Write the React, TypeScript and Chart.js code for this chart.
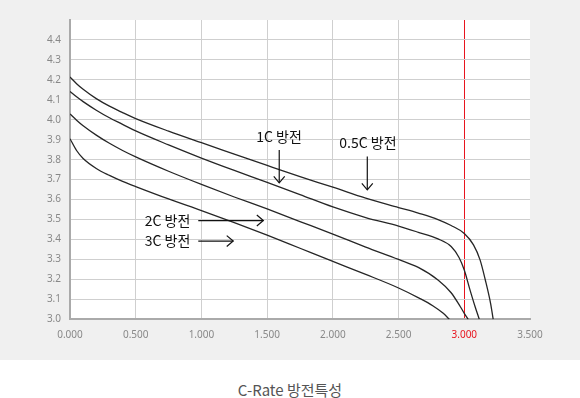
import React, { useEffect, useRef } from 'react';
import { Chart, registerables } from 'chart.js';

Chart.register(...registerables);

// ---- Data (capacity on x, voltage in V on y) ----
const seriesLabels = ['0.5C 방전', '1C 방전', '2C 방전', '3C 방전'];

const xHalfC = [0, 0.05, 0.1, 0.2, 0.3, 0.4, 0.5, 0.75, 1.0, 1.25, 1.5, 1.75, 2.0, 2.25, 2.5, 2.65, 2.8, 2.9, 3.0, 3.07, 3.12, 3.16, 3.2, 3.22];
const yHalfC = [4.214, 4.181, 4.153, 4.106, 4.068, 4.036, 4.006, 3.943, 3.885, 3.828, 3.771, 3.715, 3.662, 3.607, 3.56, 3.532, 3.5, 3.47, 3.43, 3.373, 3.298, 3.197, 3.08, 3.0];

const x1C = [0, 0.05, 0.1, 0.2, 0.3, 0.4, 0.5, 0.75, 1.0, 1.25, 1.5, 1.75, 2.0, 2.25, 2.5, 2.65, 2.8, 2.9, 2.96, 3.0, 3.04, 3.08, 3.114];
const y1C = [4.142, 4.115, 4.091, 4.048, 4.01, 3.977, 3.944, 3.874, 3.808, 3.746, 3.686, 3.625, 3.563, 3.51, 3.467, 3.436, 3.403, 3.365, 3.31, 3.247, 3.155, 3.068, 3.0];

const x2C = [0, 0.05, 0.1, 0.2, 0.3, 0.4, 0.5, 0.75, 1.0, 1.25, 1.5, 1.75, 2.0, 2.25, 2.5, 2.65, 2.8, 2.9, 2.97, 3.0, 3.03];
const y2C = [4.029, 3.998, 3.97, 3.923, 3.882, 3.846, 3.814, 3.742, 3.676, 3.613, 3.553, 3.49, 3.427, 3.362, 3.3, 3.26, 3.197, 3.133, 3.063, 3.03, 3.0];

const x3C = [0, 0.05, 0.1, 0.2, 0.3, 0.4, 0.5, 0.75, 1.0, 1.25, 1.5, 1.75, 2.0, 2.25, 2.5, 2.66, 2.76, 2.84, 2.886];
const y3C = [3.905, 3.846, 3.806, 3.756, 3.721, 3.691, 3.665, 3.603, 3.545, 3.485, 3.422, 3.356, 3.29, 3.225, 3.157, 3.105, 3.068, 3.03, 3.0];

const seriesX = [xHalfC, x1C, x2C, x3C];
const seriesY = [yHalfC, y1C, y2C, y3C];

// Axis settings
const xMin = 0;
const xMax = 3.5;
const xStep = 0.5;
const yMin = 3.0;
const yMax = 4.5;
const yStep = 0.1;
const markerX = 3.0; // red reference line

// Annotations (in data coordinates)
const noteLabels = ['1C 방전', '0.5C 방전', '2C 방전', '3C 방전'];
const noteLabelX = [1.59, 2.267, 0.742, 0.742];
const noteLabelY = [3.915, 3.885, 3.493, 3.393];
const arrowFromX = [1.592, 2.262, 0.976, 0.976];
const arrowFromY = [3.849, 3.816, 3.495, 3.392];
const arrowToX = [1.592, 2.262, 1.471, 1.242];
const arrowToY = [3.684, 3.649, 3.495, 3.392];

const caption = 'C-Rate 방전특성';

const RED = '#e8141e';
const GRID = '#cfcfcf';

const areaBgPlugin = {
  id: 'areaBg',
  beforeDraw(chart: any) {
    const { ctx, chartArea } = chart;
    if (!chartArea) return;
    ctx.save();
    ctx.fillStyle = '#ffffff';
    ctx.fillRect(chartArea.left, chartArea.top, chartArea.right - chartArea.left, chartArea.bottom - chartArea.top);
    ctx.restore();
  },
};

const annotationPlugin = {
  id: 'notes',
  afterDatasetsDraw(chart: any) {
    const { ctx } = chart;
    const xs = chart.scales.x;
    const ys = chart.scales.y;
    ctx.save();
    ctx.fillStyle = '#111';
    ctx.strokeStyle = '#111';
    ctx.lineWidth = 1.2;
    ctx.font = '14px "Noto Sans CJK KR", "Noto Sans", sans-serif';
    ctx.textAlign = 'center';
    ctx.textBaseline = 'middle';
    for (let i = 0; i < noteLabels.length; i++) {
      ctx.fillText(noteLabels[i], xs.getPixelForValue(noteLabelX[i]), ys.getPixelForValue(noteLabelY[i]));
      const x1 = xs.getPixelForValue(arrowFromX[i]);
      const y1 = ys.getPixelForValue(arrowFromY[i]);
      const x2 = xs.getPixelForValue(arrowToX[i]);
      const y2 = ys.getPixelForValue(arrowToY[i]);
      ctx.beginPath();
      ctx.moveTo(x1, y1);
      ctx.lineTo(x2, y2);
      ctx.stroke();
      const ang = Math.atan2(y2 - y1, x2 - x1);
      const len = 8.5;
      const spread = (40 * Math.PI) / 180;
      ctx.beginPath();
      ctx.moveTo(x2 - len * Math.cos(ang - spread), y2 - len * Math.sin(ang - spread));
      ctx.lineTo(x2, y2);
      ctx.lineTo(x2 - len * Math.cos(ang + spread), y2 - len * Math.sin(ang + spread));
      ctx.stroke();
    }
    ctx.restore();
  },
};

export default function App() {
  const ref = useRef<HTMLCanvasElement>(null);

  useEffect(() => {
    const canvas = ref.current;
    if (!canvas) return;
    const datasets = seriesLabels.map((label, i) => ({
      label,
      data: seriesX[i].map((x, j) => ({ x, y: seriesY[i][j] })),
      borderColor: '#262626',
      borderWidth: 1.3,
      pointRadius: 0,
      fill: false,
      cubicInterpolationMode: 'monotone' as const,
    }));

    const chart = new Chart(canvas, {
      type: 'line',
      data: { datasets },
      plugins: [areaBgPlugin, annotationPlugin],
      options: {
        responsive: false,
        animation: false,
        devicePixelRatio: 1,
        layout: { padding: { top: 20, right: 50, left: 0, bottom: 0 } },
        plugins: {
          legend: { display: false },
          tooltip: { enabled: false },
        },
        scales: {
          x: {
            type: 'linear',
            min: xMin,
            max: xMax,
            ticks: {
              stepSize: xStep,
              padding: 10,
              font: { family: '"Noto Sans", sans-serif', size: 10 },
              color: (c: any) => (c.tick && Math.abs(c.tick.value - markerX) < 1e-6 ? RED : '#888'),
              callback: (v: any) => Number(v).toFixed(3),
              maxRotation: 0,
            },
            grid: {
              drawTicks: false,
              lineWidth: 1,
              color: (c: any) => {
                const v = c.tick ? c.tick.value : null;
                if (v === null) return GRID;
                if (Math.abs(v - markerX) < 1e-6) return RED;
                if (Math.abs(v - xMax) < 1e-6) return 'rgba(0,0,0,0)';
                return GRID;
              },
            },
            border: { color: '#aaaaaa', width: 2 },
            afterFit: (s: any) => {
              s.height = 40.7;
            },
          },
          y: {
            type: 'linear',
            min: yMin,
            max: yMax,
            ticks: {
              stepSize: yStep,
              padding: 9,
              font: { family: '"Noto Sans", sans-serif', size: 10 },
              color: '#888',
              callback: (v: any) => (Number(v) > yMax - yStep / 2 ? '' : Number(v).toFixed(1)),
            },
            grid: {
              drawTicks: false,
              lineWidth: 1,
              color: (c: any) => {
                const v = c.tick ? c.tick.value : null;
                if (v !== null && v > yMax - yStep / 2) return 'rgba(0,0,0,0)';
                return GRID;
              },
            },
            border: { color: '#aaaaaa', width: 2 },
            afterFit: (s: any) => {
              s.width = 70;
            },
          },
        },
      },
    });
    return () => chart.destroy();
  }, []);

  return (
    <div style={{ position: 'fixed', left: 0, top: 0, width: 580, height: 398, background: '#ffffff', overflow: 'hidden' }}>
      <div style={{ width: 580, height: 360, background: '#f0f0f0' }}>
        <canvas ref={ref} width={580} height={360} style={{ display: 'block', width: 580, height: 360 }} />
      </div>
      <div
        style={{
          position: 'absolute',
          top: 380,
          left: 0,
          width: 580,
          height: 20,
          lineHeight: '20px',
          textAlign: 'center',
          fontSize: 15,
          color: '#555',
          fontFamily: '"Noto Sans CJK KR", "Noto Sans", sans-serif',
        }}
      >
        {caption}
      </div>
    </div>
  );
}
